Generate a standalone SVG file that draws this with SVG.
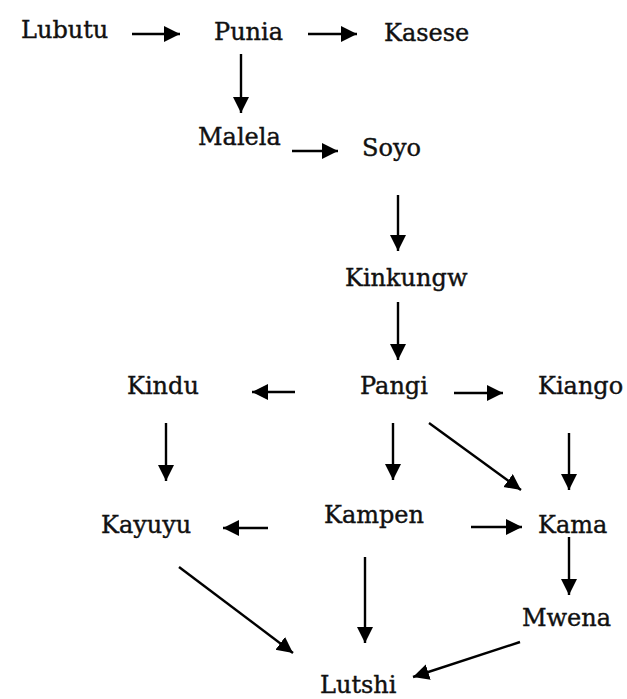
<svg xmlns="http://www.w3.org/2000/svg" width="627" height="699" viewBox="0 0 627 699">
<style>
text{font-family:"DejaVu Serif","Liberation Serif",serif;font-size:24px;fill:#111;stroke:#111;stroke-width:0.4;}
.c line{stroke:#000;stroke-width:2.4;marker-end:url(#ah);}
</style>
<defs>
<marker id="ah" markerUnits="userSpaceOnUse" markerWidth="18" markerHeight="18" refX="16" refY="8" orient="auto">
<path d="M0,0 L16,8 L0,16 Z" fill="#000"/>
</marker>
</defs>
<rect width="627" height="699" fill="#fff"/>
<g id="n-lubutu"><text x="21" y="38">Lubutu</text></g>
<g id="n-punia"><text x="214" y="40">Punia</text></g>
<g id="n-kasese"><text x="384" y="41">Kasese</text></g>
<g id="n-malela"><text x="198" y="145">Malela</text></g>
<g id="n-soyo"><text x="362" y="156">Soyo</text></g>
<g id="n-kinkungw"><text x="345" y="286">Kinkungw</text></g>
<g id="n-pangi"><text x="360" y="394">Pangi</text></g>
<g id="n-kindu"><text x="127" y="394">Kindu</text></g>
<g id="n-kiango"><text x="538" y="394">Kiango</text></g>
<g id="n-kayuyu"><text x="101" y="533">Kayuyu</text></g>
<g id="n-kampen"><text x="324" y="523">Kampen</text></g>
<g id="n-kama"><text x="538" y="533">Kama</text></g>
<g id="n-mwena"><text x="522" y="626">Mwena</text></g>
<g id="n-lutshi"><text x="320" y="693">Lutshi</text></g>
<g id="connectors" class="c">
<line x1="132" y1="34" x2="180" y2="34"/>
<line x1="308" y1="34" x2="357" y2="34"/>
<line x1="241" y1="54" x2="241" y2="113"/>
<line x1="292" y1="151" x2="338" y2="151"/>
<line x1="398" y1="195" x2="398" y2="251"/>
<line x1="398" y1="302" x2="398" y2="360"/>
<line x1="295" y1="392" x2="252" y2="392"/>
<line x1="454" y1="393" x2="503" y2="393"/>
<line x1="166" y1="423" x2="166" y2="481"/>
<line x1="393" y1="423" x2="393" y2="480"/>
<line x1="429" y1="423" x2="521" y2="490"/>
<line x1="569" y1="433" x2="569" y2="490"/>
<line x1="268" y1="528" x2="223" y2="528"/>
<line x1="471" y1="527" x2="522" y2="527"/>
<line x1="569" y1="537" x2="569" y2="595"/>
<line x1="179" y1="567" x2="293" y2="653"/>
<line x1="365" y1="557" x2="365" y2="643"/>
<line x1="520" y1="642" x2="413" y2="677"/>
</g>
</svg>
